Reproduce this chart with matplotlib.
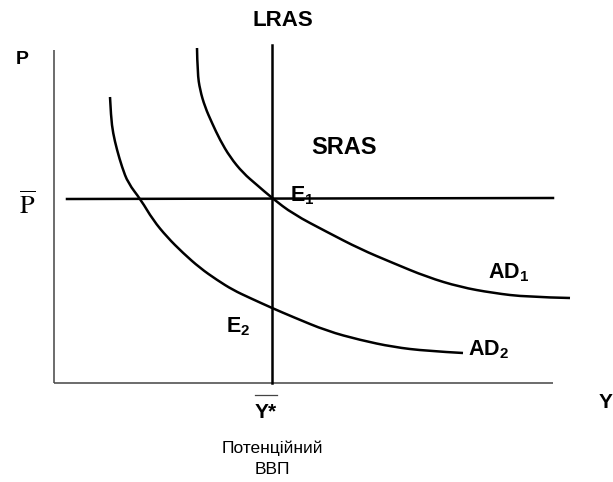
import numpy as np
import matplotlib
matplotlib.use("Agg")
import matplotlib.pyplot as plt
from matplotlib.path import Path
from matplotlib.patches import PathPatch

plt.rcParams['font.family'] = ['Liberation Sans', 'DejaVu Sans']
plt.rcParams['mathtext.fontset'] = 'custom'
plt.rcParams['mathtext.rm'] = 'Liberation Sans'
plt.rcParams['mathtext.bf'] = 'Liberation Sans:bold'
plt.rcParams['mathtext.it'] = 'Liberation Sans:italic'

# curves (Y = output, P = price level)
ad1_y = [143, 143.5, 146, 151, 158, 166, 176, 189, 203, 218, 239, 273, 306, 339, 373, 406, 439, 473, 516]
ad1_p = [335, 310, 293, 276, 260, 243, 226, 210, 198, 185, 169, 151, 134, 120, 106, 96, 90, 86, 85]

ad2_y = [56, 57, 59, 63, 68, 74, 87, 99, 113, 129, 146, 163, 179, 196, 218, 239, 273, 306, 339, 373, 409]
ad2_p = [286, 266, 250, 233, 216, 200, 183, 163, 146, 130, 115, 103, 93, 85, 75, 66, 52, 43, 36, 32, 30]

sras_y = [13, 499]
sras_p = [184, 185]

y_star = 218
lras_p = [0, 338]

y_axis_max = 499
p_axis_max = 333


def smooth_curve(ax, xs, ys, **kw):
    # quadratic bezier through the midpoints, read points act as controls
    pts = np.column_stack([xs, ys]).astype(float)
    verts = [pts[0]]
    codes = [Path.MOVETO]
    for i in range(1, len(pts) - 1):
        mid = (pts[i] + pts[i + 1]) / 2
        if i == len(pts) - 2:
            mid = pts[i + 1]
        verts += [pts[i], mid]
        codes += [Path.CURVE3, Path.CURVE3]
    patch = PathPatch(Path(verts, codes), fill=False, capstyle='butt', **kw)
    ax.add_patch(patch)


fig = plt.figure(figsize=(6.13, 4.82), dpi=100)
ax = fig.add_axes([0, 0, 1, 1])
ax.set_xlim(-54, 559)
ax.set_ylim(-99, 383)
ax.axis('off')

# axes of the diagram
ax.plot([0, 0], [0, p_axis_max], color='#444444', lw=1.1, solid_capstyle='butt')
ax.plot([0, y_axis_max], [0, 0], color='#444444', lw=1.1, solid_capstyle='butt')

lw = 1.8
ax.plot([y_star, y_star], lras_p, color='black', lw=lw)
ax.plot(sras_y, sras_p, color='black', lw=lw)
smooth_curve(ax, ad1_y, ad1_p, edgecolor='black', lw=lw)
smooth_curve(ax, ad2_y, ad2_p, edgecolor='black', lw=lw)

bold = dict(fontweight='bold', color='black')
ax.text(-32, 324, 'P', ha='center', va='center', fontsize=14, **bold)
ax.text(229, 362, 'LRAS', ha='center', va='center', fontsize=16, **bold)
ax.text(290, 235, 'SRAS', ha='center', va='center', fontsize=17, **bold)
ax.text(236, 187, r'$\mathbf{E_1}$', ha='left', va='center', fontsize=15.5)
ax.text(434, 110, r'$\mathbf{AD_1}$', ha='left', va='center', fontsize=15.5)
ax.text(172, 56, r'$\mathbf{E_2}$', ha='left', va='center', fontsize=15.5)
ax.text(414, 33, r'$\mathbf{AD_2}$', ha='left', va='center', fontsize=15.5)
ax.text(-27, 178, r'$\overline{\mathrm{P}}$', ha='center', va='center',
        fontsize=19, math_fontfamily='stix')
ax.plot([y_star - 17, y_star + 5], [-12, -12], color='#444444', lw=0.9)
ax.text(y_star - 6, -30, 'Y*', ha='center', va='center', fontsize=15, **bold)
ax.text(552, -19, 'Y', ha='center', va='center', fontsize=15, **bold)
ax.text(y_star, -65, 'Потенційний', ha='center', va='center', fontsize=12.5)
ax.text(y_star, -87, 'ВВП', ha='center', va='center', fontsize=12.5)

fig.savefig('out.png', dpi=100)
